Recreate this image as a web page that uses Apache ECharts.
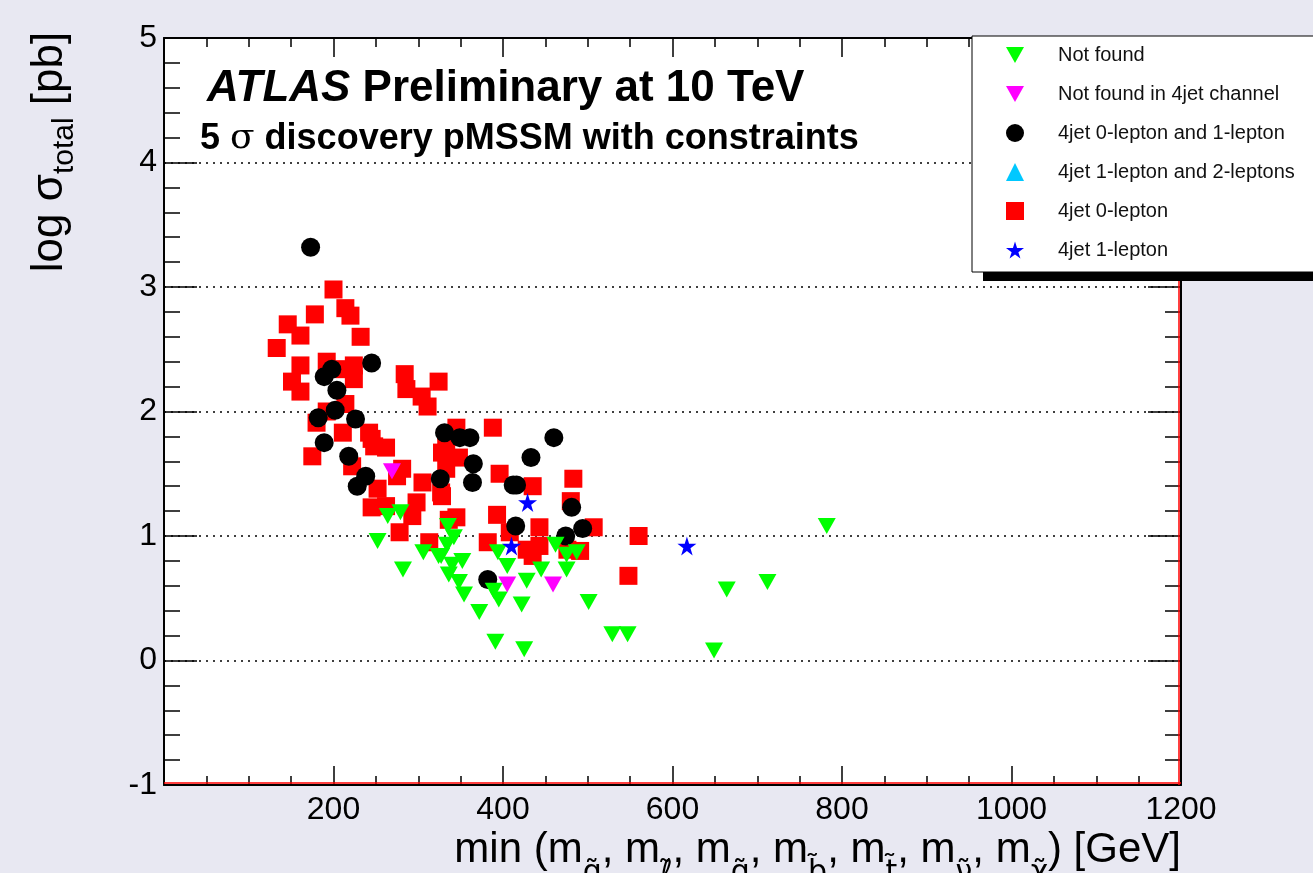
<!DOCTYPE html>
<html>
<head>
<meta charset="utf-8">
<title>pMSSM 5 sigma discovery</title>
<script src="https://cdn.jsdelivr.net/npm/echarts@6/dist/echarts.min.js"></script>
<style>
html, body { margin: 0; padding: 0; background: #e8e8f2; }
#main { width: 1313px; height: 873px; }
</style>
</head>
<body>
<div id="main"></div>
<script>
// points: [min sparticle mass (GeV), log sigma_total (pb)]
var notFound = [
	[264, 1.16], [279, 1.19], [252, 0.96], [282, 0.73], [306, 0.87], [324, 0.84],
	[335, 1.08], [342, 0.99], [334, 0.93], [327, 0.84], [352, 0.80], [340, 0.77],
	[336, 0.69], [348, 0.63], [354, 0.53], [372, 0.39], [394, 0.87], [405, 0.76],
	[389, 0.56], [395, 0.49], [428, 0.64], [422, 0.45], [445, 0.73], [462, 0.93],
	[475, 0.85], [487, 0.87], [475, 0.73], [501, 0.47], [391, 0.15], [425, 0.09],
	[529, 0.21], [547, 0.21], [649, 0.08], [664, 0.57], [712, 0.63], [782, 1.08]
];
var notFound4jet = [[269, 1.52], [405, 0.61], [459, 0.61]];
var jet0and1lep = [
	[173, 3.32], [245, 2.39], [198, 2.34], [189, 2.28], [204, 2.17], [202, 2.01],
	[182, 1.95], [226, 1.94], [189, 1.75], [218, 1.64], [238, 1.48], [228, 1.40],
	[331, 1.83], [349, 1.79], [361, 1.79], [365, 1.58], [364, 1.43], [326, 1.46],
	[460, 1.79], [433, 1.63], [416, 1.41], [412, 1.41], [481, 1.23], [415, 1.08],
	[474, 1.00], [494, 1.06], [382, 0.65]
];
var jet1and2lep = [];
var jet0lep = [
	[133, 2.51], [146, 2.70], [161, 2.61], [178, 2.78], [200, 2.98], [214, 2.83],
	[220, 2.77], [232, 2.60], [161, 2.37], [192, 2.40], [224, 2.37], [151, 2.24],
	[161, 2.16], [224, 2.26], [213, 2.34], [284, 2.30], [324, 2.24], [286, 2.18],
	[304, 2.12], [311, 2.04], [214, 2.06], [192, 2.00], [180, 1.91], [211, 1.83],
	[242, 1.83], [262, 1.71], [175, 1.64], [222, 1.56], [245, 1.78], [248, 1.72],
	[281, 1.54], [305, 1.43], [345, 1.87], [328, 1.67], [333, 1.54], [252, 1.38],
	[245, 1.23], [262, 1.24], [278, 1.03], [275, 1.48], [293, 1.16], [298, 1.27],
	[313, 0.95], [327, 1.35], [336, 1.13], [388, 1.87], [333, 1.72], [396, 1.50],
	[435, 1.40], [483, 1.46], [480, 1.28], [393, 1.17], [443, 1.07], [408, 1.03],
	[382, 0.95], [428, 0.89], [443, 0.92], [435, 0.84], [476, 0.89], [491, 0.88],
	[507, 1.07], [548, 0.68], [560, 1.00], [345, 1.15], [328, 1.32], [348, 1.63]
];
var jet1lep = [[429, 1.27], [410, 0.92], [617, 0.92]];

var legendNames = ['Not found', 'Not found in 4jet channel', '4jet 0-lepton and 1-lepton',
	'4jet 1-lepton and 2-leptons', '4jet 0-lepton', '4jet 1-lepton'];
var xTicks = [0, 1200, 200];
var yTicks = [-1, 5, 1];

var FONT = 'Liberation Sans, Arial, sans-serif';
var starPath = 'path://M50,0 L61,35 L98,35 L68,57 L79,91 L50,70 L21,91 L32,57 L2,35 L39,35 Z';
var downTriangle = 'path://M0,0 L20,0 L10,18 Z';

function frameAxis(pos, isX, labels) {
	return {
		type: 'value',
		position: pos,
		min: isX ? xTicks[0] : yTicks[0],
		max: isX ? xTicks[1] : yTicks[1],
		interval: isX ? xTicks[2] : yTicks[2],
		axisLine: { show: true, onZero: false, lineStyle: { color: '#000', width: 2 } },
		axisTick: { show: true, inside: true, length: isX ? 19 : 33, lineStyle: { color: '#000', width: 1.5 } },
		minorTick: { show: true, splitNumber: isX ? 4 : 5, length: isX ? 9 : 16, lineStyle: { color: '#000', width: 1.5 } },
		axisLabel: {
			show: labels,
			color: '#000',
			fontSize: 32,
			fontFamily: FONT,
			margin: isX ? 9 : 7,
			formatter: function(v) { return (isX && v === 0) ? '' : String(v); }
		},
		splitLine: {
			show: !isX && labels,
			lineStyle: { color: '#000', width: 1.5, type: [2, 5] }
		}
	};
}

var myChart = echarts.init(document.getElementById('main'));
var option = {
	backgroundColor: '#e8e8f2',
	animation: false,
	grid: {
		left: 164, right: 132, top: 38, bottom: 88,
		show: true, backgroundColor: '#fff', borderWidth: 0
	},
	xAxis: [frameAxis('bottom', true, true), frameAxis('top', true, false)],
	yAxis: [frameAxis('left', false, true), frameAxis('right', false, false)],
	legend: {
		data: legendNames.map(function(n, i) {
			return i < 2 ? { name: n, icon: downTriangle } : { name: n };
		}),
		orient: 'vertical',
		left: 972,
		top: 36,
		z: 10,
		padding: [9, 60, 12, 34],
		itemWidth: 18,
		itemHeight: 18,
		itemGap: 19,
		backgroundColor: '#fff',
		borderColor: '#000',
		borderWidth: 1,
		borderRadius: 0,
		selectedMode: false,
		textStyle: { color: '#111', fontSize: 20, fontFamily: FONT, padding: [0, 0, 0, 29] }
	},
	series: [{
		name: 'Not found',
		type: 'scatter',
		symbol: 'triangle',
		symbolRotate: 180,
		symbolSize: [18, 16],
		itemStyle: { color: '#00ff00', opacity: 1 },
		z: 4,
		data: notFound
	}, {
		name: 'Not found in 4jet channel',
		type: 'scatter',
		symbol: 'triangle',
		symbolRotate: 180,
		symbolSize: [18, 16],
		itemStyle: { color: '#ff00ff', opacity: 1 },
		z: 5,
		data: notFound4jet
	}, {
		name: '4jet 0-lepton and 1-lepton',
		type: 'scatter',
		symbol: 'circle',
		symbolSize: 19,
		itemStyle: { color: '#000', opacity: 1 },
		z: 3,
		data: jet0and1lep
	}, {
		name: '4jet 1-lepton and 2-leptons',
		type: 'scatter',
		symbol: 'triangle',
		symbolSize: [18, 16],
		itemStyle: { color: '#00c8ff', opacity: 1 },
		z: 4,
		data: jet1and2lep
	}, {
		name: '4jet 0-lepton',
		type: 'scatter',
		symbol: 'rect',
		symbolSize: 18,
		itemStyle: { color: '#ff0000', opacity: 1 },
		z: 2,
		data: jet0lep
	}, {
		name: '4jet 1-lepton',
		type: 'scatter',
		symbol: starPath,
		symbolSize: 19,
		itemStyle: { color: '#0000ff', opacity: 1 },
		z: 6,
		data: jet1lep
	}]
};
myChart.setOption(option);

// frame decoration, legend shadow and texts
var p0 = myChart.convertToPixel({ xAxisIndex: 0, yAxisIndex: 0 }, [xTicks[0], yTicks[0]]);
var p1 = myChart.convertToPixel({ xAxisIndex: 0, yAxisIndex: 0 }, [xTicks[1], yTicks[1]]);
myChart.setOption({
	graphic: [{
		type: 'line', z: 1,
		shape: { x1: p0[0], y1: p0[1] - 2, x2: p1[0], y2: p0[1] - 2 },
		style: { stroke: '#ff0000', lineWidth: 1.5 }
	}, {
		type: 'line', z: 1,
		shape: { x1: p1[0] - 2, y1: p1[1], x2: p1[0] - 2, y2: p0[1] },
		style: { stroke: '#ff0000', lineWidth: 1.5 }
	}, {
		type: 'rect', z: 9,
		shape: { x: 983, y: 45, width: 400, height: 236 },
		style: { fill: '#000' }
	}, {
		type: 'text', x: 207, y: 89,
		style: {
			text: '{a|ATLAS}{b| Preliminary at 10 TeV}',
			textVerticalAlign: 'middle',
			rich: {
				a: { fontSize: 44, fontWeight: 'bold', fontStyle: 'italic', fontFamily: FONT, fill: '#000' },
				b: { fontSize: 44, fontWeight: 'bold', fontFamily: FONT, fill: '#000' }
			}
		}
	}, {
		type: 'text', x: 200, y: 139,
		style: {
			text: '{b|5 }{s|σ}{b| discovery pMSSM with constraints}',
			textVerticalAlign: 'middle',
			rich: {
				b: { fontSize: 36, fontWeight: 'bold', fontFamily: FONT, fill: '#000' },
				s: { fontSize: 36, fontFamily: 'DejaVu Serif, serif', fill: '#000' }
			}
		}
	}, {
		type: 'text', x: 50, y: 152, rotation: Math.PI / 2,
		style: {
			text: '{m|log σ}{s|total}{m| [pb]}',
			textAlign: 'center',
			textVerticalAlign: 'middle',
			rich: {
				m: { fontSize: 44, lineHeight: 60, fontFamily: FONT, fill: '#000' },
				s: { fontSize: 30, lineHeight: 30, verticalAlign: 'bottom', fontFamily: FONT, fill: '#000' }
			}
		}
	}, {
		type: 'text', x: p1[0], y: 850,
		style: {
			text: '{m|min (m}{s|q̃}{m|, m}{s|ℓ̃}{m|, m}{s|g̃}{m|, m}{s|b̃}{m|, m}{s|t̃}{m|, m}{s|ν̃}{m|, m}{s|χ̃}{m|) [GeV]}',
			textAlign: 'right',
			textVerticalAlign: 'middle',
			rich: {
				m: { fontSize: 42, lineHeight: 76, fontFamily: FONT, fill: '#000' },
				s: { fontSize: 30, lineHeight: 30, verticalAlign: 'bottom', fontFamily: 'DejaVu Sans, sans-serif', fill: '#000' }
			}
		}
	}]
});
</script>
</body>
</html>
